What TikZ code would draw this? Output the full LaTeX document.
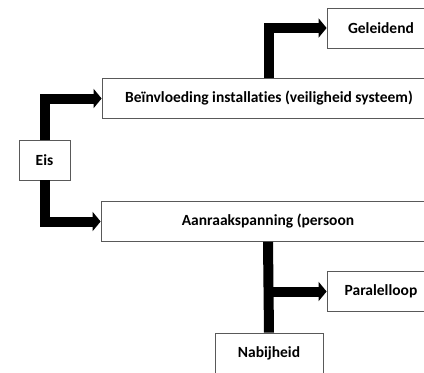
\documentclass[tikz,border=0pt]{standalone}
\usepackage{fontspec}
\setmainfont[Ligatures=NoCommon]{Carlito}
\usepackage{tikz}
\usetikzlibrary{arrows.meta,positioning}

\begin{document}
\begin{tikzpicture}[
  x=1pt, y=-1pt,
  box/.style={
    draw=black!65,
    line width=0.8pt,
    fill=white,
    align=center,
    minimum height=40pt,
    minimum width=108pt,
    inner sep=2pt,
    font=\fontsize{15.5}{17}\selectfont\bfseries
  },
  widebox/.style={box, minimum width=334pt},
  link/.style={line width=10pt, line join=miter},
  flow/.style={link, -{Triangle[length=8pt,width=19pt]}}
]
\useasboundingbox (0,0) rectangle (424,373);
\clip (0,0) rectangle (424,373);

\node[box,minimum width=51pt] (eis) at (44.5,160) {Eis};
\node[widebox] (infl) at (269,98.5)
  {Beïnvloeding installaties (veiligheid systeem)};
\node[widebox] (touch) at (268,221.5) {Aanraakspanning (persoon};
\node[box] (geleid) at (381,28) {Geleidend};
\node[box] (para) at (381,291.5) {Paralelloop};
\node[box] (nabij) at (269,353) {Nabijheid};

\draw[flow] (eis.north) |- (infl.west);
\draw[flow] (eis.south) |- (touch.west);
\draw[flow] (infl.north) |- (geleid.west);
\draw[link] (touch.south) -- (nabij.north);
\coordinate (split) at (touch.south |- para.west);
\draw[flow] (split) -- (para.west);
\end{tikzpicture}
\end{document}
